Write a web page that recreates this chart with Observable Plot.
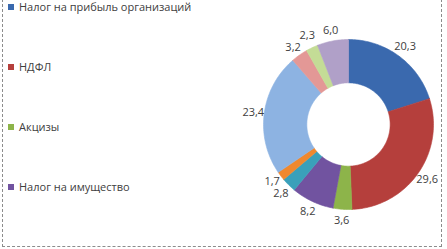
<!DOCTYPE html>
<html><head><meta charset="utf-8">
<script src="https://cdn.jsdelivr.net/npm/d3@7"></script>
<script src="https://cdn.jsdelivr.net/npm/@observablehq/plot@0.6"></script>
<style>
body{margin:0;background:#fff;}
#wrap{position:relative;width:447px;height:249px;overflow:hidden;font-family:"Open Sans",sans-serif;}
#frame{position:absolute;left:2px;top:-6px;width:440px;height:253px;border:1px dashed #8c8c8c;box-sizing:border-box;}
#chart{position:absolute;left:0;top:0;}
.li{position:absolute;left:8px;display:flex;align-items:center;font-size:11px;color:#404040;white-space:nowrap;line-height:12px;}
.sw{width:6px;height:6px;margin-right:5px;}
</style></head>
<body><div id="wrap"><div id="chart"></div><div id="frame"></div></div>
<script>
const sliceKeys = ["s1","s2","s3","s4","s5","s6","s7","s8","s9","s10"];
const sliceValues = [20.3, 29.6, 3.6, 8.2, 2.8, 1.7, 23.4, 3.2, 2.3, 6.0];
const sliceColors = ["#3A69AE","#B53F3C","#8DB44A","#7153A0","#3AA0BA","#F0882E","#8DB3E2","#E39896","#C4DC96","#B0A0C8"];
const legendLabels = ["Налог на прибыль организаций","НДФЛ","Акцизы","Налог на имущество"];

const W = 447, H = 249, R = 85, cx = 348, cy = 124;
const innerR = 0.49, labelR = 1.13;

const arcs = d3.pie().sort(null).value(d => d.v)(sliceKeys.map((k,i)=>({k, v: sliceValues[i]})));
const pts = [];
for (const a of arcs) {
  const n = Math.max(4, Math.ceil((a.endAngle - a.startAngle) / 0.02));
  for (let j = 0; j <= n; j++) {
    const t = a.startAngle + (a.endAngle - a.startAngle) * j / n;
    pts.push({k: a.data.k, x: Math.sin(t), y: Math.cos(t)});
  }
  for (let j = n; j >= 0; j--) {
    const t = a.startAngle + (a.endAngle - a.startAngle) * j / n;
    pts.push({k: a.data.k, x: innerR * Math.sin(t), y: innerR * Math.cos(t)});
  }
  pts.push({k: a.data.k, x: Math.sin(a.startAngle), y: Math.cos(a.startAngle)});
}
const labels = arcs.map(a => {
  const m = (a.startAngle + a.endAngle) / 2;
  return {x: labelR * Math.sin(m), y: labelR * Math.cos(m), t: a.data.v.toFixed(1).replace(".", ",")};
});
// simple collision relaxation (in scale units; 1 unit = R px)
const minDy = 12 / R, minDx = 22 / R;
for (let it = 0; it < 30; it++) {
  for (let i = 0; i < labels.length; i++) for (let j = i + 1; j < labels.length; j++) {
    const A = labels[i], B = labels[j];
    const dx = Math.abs(A.x - B.x), dy = A.y - B.y;
    if (dx < minDx && Math.abs(dy) < minDy) {
      const push = (minDy - Math.abs(dy)) / 2, s = dy >= 0 ? 1 : -1;
      A.y += s * push; B.y -= s * push;
    }
  }
}

const plot = Plot.plot({
  width: W, height: H,
  margin: 0,
  x: {domain: [-cx / R, (W - cx) / R], axis: null},
  y: {domain: [-(H - cy) / R, cy / R], axis: null},
  color: {domain: sliceKeys, range: sliceColors},
  style: {background: "transparent", fontFamily: "'Open Sans', sans-serif"},
  marks: [
    Plot.line(pts, {x: "x", y: "y", z: "k", fill: "k", stroke: "k", strokeWidth: 0.6, curve: "linear"}),
    Plot.text(labels, {x: "x", y: "y", text: "t", fontSize: 11, fill: "#404040", textAnchor: "middle"})
  ]
});
document.getElementById("chart").appendChild(plot);

const wrap = document.getElementById("wrap");
legendLabels.forEach((lab, i) => {
  const d = document.createElement("div");
  d.className = "li";
  d.style.top = (1 + i * 60) + "px";
  const s = document.createElement("span");
  s.className = "sw";
  s.style.background = sliceColors[i];
  d.appendChild(s);
  d.appendChild(document.createTextNode(lab));
  wrap.appendChild(d);
});
</script>
</body></html>
